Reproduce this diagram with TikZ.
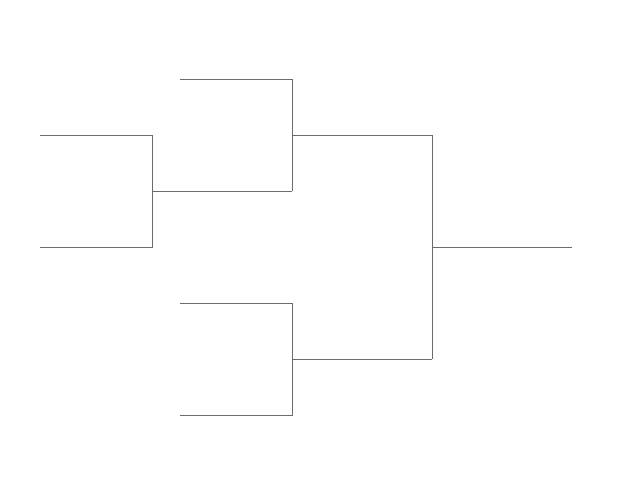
\documentclass[tikz,border=0pt]{standalone}
\begin{document}
\begin{tikzpicture}[x=1pt,y=-1pt,br/.style={draw=gray!85!black,line width=0.6pt}]
\useasboundingbox (0,0) rectangle (641,495);
\draw[br] (40,135) -- (152,135) -- (152,247) -- (40,247);
\draw[br] (152,191) -- (292,191);
\draw[br] (180,79) -- (292,79) -- (292,191);
\draw[br] (292,135) -- (432,135);
\draw[br] (180,303) -- (292,303) -- (292,415) -- (180,415);
\draw[br] (292,359) -- (432,359);
\draw[br] (432,135) -- (432,359);
\draw[br] (432,247) -- (572,247);
\end{tikzpicture}
\end{document}
